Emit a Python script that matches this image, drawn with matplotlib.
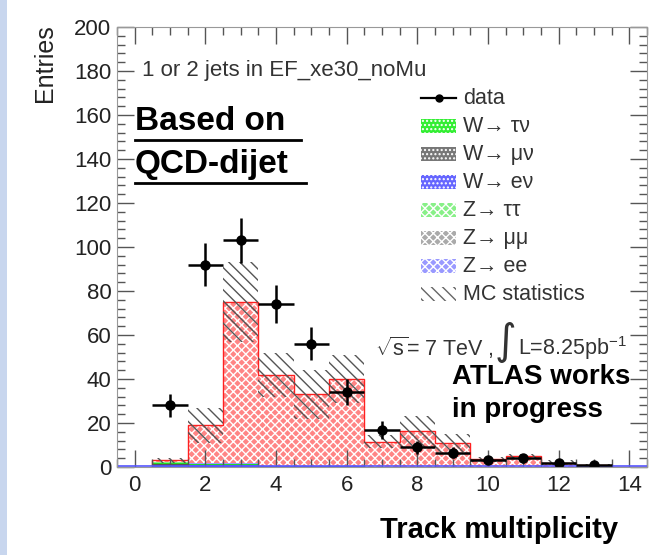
"""
Track multiplicity - 1 or 2 jets in EF_xe30_noMu
"""
import numpy as np
import matplotlib.pyplot as plt
from matplotlib.patches import Rectangle
from matplotlib.lines import Line2D
from matplotlib.ticker import MultipleLocator

plt.rcParams['font.family'] = ['Liberation Sans', 'DejaVu Sans']
plt.rcParams['mathtext.fontset'] = 'custom'
plt.rcParams['mathtext.rm'] = 'Liberation Sans'
plt.rcParams['mathtext.it'] = 'Liberation Sans'
plt.rcParams['hatch.linewidth'] = 1.0

# bins centred on integer track counts
bin_centers = [1, 2, 3, 4, 5, 6, 7, 8, 9, 10, 11, 12, 13, 14]

# stacked MC components (bottom to top)
w_enu = [0.6, 0.7, 0.7, 0.3, 0.3, 0.3, 0.2, 0.2, 0.1, 0.1, 0.1, 0.1, 0.1, 0.1]
w_munu = [0.7, 0.2, 0.2, 0.1, 0.1, 0.1, 0, 0, 0, 0, 0, 0, 0, 0]
w_taunu = [0.6, 0.3, 0.3, 0.1, 0.1, 0.1, 0, 0, 0, 0, 0, 0, 0, 0]
z_tautau = [0.3, 0.2, 0.2, 0.1, 0, 0, 0, 0, 0, 0, 0, 0, 0, 0]
z_mumu = [0.2, 0.1, 0.1, 0, 0, 0, 0, 0, 0, 0, 0, 0, 0, 0]
z_ee = [0.1, 0.1, 0.1, 0, 0, 0, 0, 0, 0, 0, 0, 0, 0, 0]
qcd_dijet = [0.5, 17.4, 73.4, 41.4, 32.5, 39.5, 11.3, 16.0, 10.9, 3.4, 4.9, 1.9, 0.9, 0]
mc_stat_err = [1, 8, 18, 10, 11, 11, 3, 7, 4, 1, 1, 1, 0.5, 0]

# data
data_x = [1, 2, 3, 4, 5, 6, 7, 8, 9, 10, 11, 12, 13]
data_counts = [28, 92, 103, 74, 56, 34, 17, 9, 6.5, 3, 4, 2, 1]

legend_labels = ['data', 'W\u2192 \u03c4\u03bd', 'W\u2192 \u03bc\u03bd', 'W\u2192 e\u03bd',
                 'Z\u2192 \u03c4\u03c4', 'Z\u2192 \u03bc\u03bc', 'Z\u2192 ee', 'MC statistics']

fig = plt.figure(figsize=(6.54, 5.55), dpi=100)
# light blue strip on the left edge of the slide
fig.patches.append(Rectangle((0, 0), 7 / 654, 1, transform=fig.transFigure,
                             facecolor='#c8d6ee', edgecolor='none'))

ax = fig.add_axes([117 / 654, 88 / 555, 530 / 654, 440 / 555])

x = np.array(bin_centers)
components = [
    (w_enu, '#5555ff'),
    (w_munu, '#555555'),
    (w_taunu, '#22dd22'),
    (z_tautau, '#88ee88'),
    (z_mumu, '#999999'),
    (z_ee, '#9999ff'),
]
bottom = np.zeros(len(x))
for vals, col in components:
    vals = np.array(vals, dtype=float)
    ax.bar(x, vals, width=1.0, bottom=bottom, color=col, linewidth=0)
    bottom += vals

qcd = np.array(qcd_dijet, dtype=float)
ax.bar(x, qcd, width=1.0, bottom=bottom, facecolor='#ff8585',
       edgecolor='white', hatch='xxxx', linewidth=0)
total = bottom + qcd
edges = np.arange(0.5, 15.0, 1.0)
ax.stairs(total, edges, color='#ff2020', linewidth=1.0, baseline=0)
ax.axhline(0.25, color='#5555ff', linewidth=1.2)

# MC statistics band
err = np.array(mc_stat_err, dtype=float)
ax.bar(x, 2 * err, width=1.0, bottom=total - err, fill=False,
       edgecolor='#555555', hatch='\\\\\\', linewidth=0)

# data points
yerr = np.sqrt(np.array(data_counts))
ax.errorbar(data_x, data_counts, xerr=0.5, yerr=yerr, fmt='o', color='black',
            markersize=6.5, elinewidth=1.8, capsize=0)

ax.set_xlim(-0.5, 14.5)
ax.set_ylim(0, 200)
ax.xaxis.set_major_locator(MultipleLocator(2))
ax.xaxis.set_minor_locator(MultipleLocator(0.5))
ax.yaxis.set_major_locator(MultipleLocator(20))
ax.yaxis.set_minor_locator(MultipleLocator(4))
ax.tick_params(which='both', direction='in', top=True, right=True,
               colors='#555555', labelcolor='#222222', labelsize=16)
ax.tick_params(which='major', length=12, width=1)
ax.tick_params(which='minor', length=6, width=1)
ax.tick_params(axis='x', which='major', pad=6)
ax.tick_params(axis='y', which='major', pad=4)
for sp in ax.spines.values():
    sp.set_color('#999999')

fig.text(45 / 654, 1 - 24 / 555, 'Entries', rotation=90, ha='center',
         va='top', fontsize=18, color='#222222')
ax.text(0.2, 180, '1 or 2 jets in EF_xe30_noMu', fontsize=16,
        color='#333333', va='center')

# legend (drawn by hand to mimic ROOT style)
leg_styles = [
    (None, None),
    ('#33ee33', '....'),
    ('#777777', '....'),
    ('#6666ff', '....'),
    ('#88f088', 'xxxx'),
    ('#aaaaaa', 'xxxx'),
    ('#9999ff', 'xxxx'),
    (None, '\\\\\\'),
]
y0 = 167.5
dy = 12.7
for i, (label, (col, hatch)) in enumerate(zip(legend_labels, leg_styles)):
    yy = y0 - i * dy
    if label == 'data':
        ax.plot([8.1, 9.1], [yy, yy], color='black', linewidth=1.6)
        ax.plot([8.6], [yy], 'o', color='black', markersize=5)
    elif col is None:
        ax.add_patch(Rectangle((8.1, yy - 3.2), 1.0, 6.4, fill=False,
                               edgecolor='#666666', hatch=hatch, linewidth=0))
    else:
        ax.add_patch(Rectangle((8.1, yy - 3.2), 1.0, 6.4, facecolor=col,
                               edgecolor='white', hatch=hatch, linewidth=0))
    ax.text(9.3, yy, label, fontsize=15.5, color='#333333', va='center')

# sqrt(s) and luminosity
ax.text(6.8, 54, '$\\sqrt{s}$= 7 TeV ,', fontsize=15.5, color='#333333',
        va='center')
ax.text(10.2, 57, '\u222b', fontsize=30, color='#333333', va='center',
        family=['DejaVu Sans'])
ax.text(10.85, 54, 'L=8.25pb$^{-1}$', fontsize=15.5, color='#333333',
        va='center')

# slide annotations
fig.text(135 / 654, 1 - 122 / 555, 'Based on', fontsize=24, fontweight='bold',
         va='center')
fig.text(135 / 654, 1 - 164 / 555, 'QCD-dijet', fontsize=24, fontweight='bold',
         va='center')
fig.add_artist(Line2D([135 / 654, 301 / 654], [1 - 140 / 555, 1 - 140 / 555],
                      color='black', linewidth=2))
fig.add_artist(Line2D([135 / 654, 306 / 654], [1 - 183 / 555, 1 - 183 / 555],
                      color='black', linewidth=2))
fig.text(452 / 654, 1 - 377 / 555, 'ATLAS works', fontsize=20,
         fontweight='bold', va='center')
fig.text(452 / 654, 1 - 410 / 555, 'in progress', fontsize=20,
         fontweight='bold', va='center')
fig.text(380 / 654, 1 - 530 / 555, 'Track multiplicity', fontsize=21,
         fontweight='bold', va='center')

plt.savefig('out.png', dpi=100)
